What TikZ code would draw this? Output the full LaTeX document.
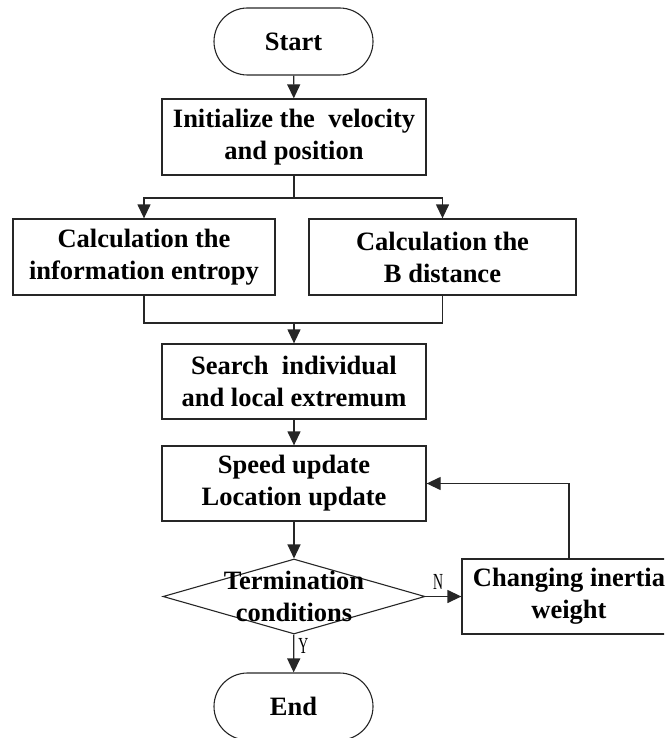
\documentclass[tikz,border=0pt]{standalone}
\usepackage{fontspec}
\setmainfont{Liberation Serif}
\newfontfamily\condfont[FakeStretch=0.6]{Liberation Serif}
\usetikzlibrary{shapes.geometric,shapes.misc,arrows.meta}

\tikzset{
  flowbox/.style={draw=black!85, line width=1.3pt, rectangle, align=center,
    inner sep=0pt, minimum height=75pt},
  terminal/.style={draw=black!85, line width=1.1pt, rounded rectangle, align=center,
    inner sep=0pt, minimum width=159pt, minimum height=67pt},
  decision/.style={draw=black!85, line width=1.1pt, diamond, inner sep=0pt,
    minimum width=262pt, minimum height=75pt},
  flowarrow/.style={draw=black!85, line width=1.3pt, -{Triangle[length=14pt,width=13pt]}},
  flowline/.style={draw=black!85, line width=1.3pt},
  yesno/.style={font=\condfont\fontsize{23}{26}\selectfont, inner sep=0pt}
}

\begin{document}
\begin{tikzpicture}[x=1pt, y=-1pt, font=\bfseries\fontsize{26.5}{32}\selectfont]
\clip (0,0) rectangle (664,738);
\node[terminal] (start) at (293.5,41.5) {Start};
\node[flowbox, minimum width=264pt, minimum height=76pt] (init) at (294,137) {Initialize the~ velocity\\and position};
\node[flowbox, minimum width=262pt, minimum height=76pt] (entropy) at (144,257) {Calculation the\\information entropy};
\node[flowbox, minimum width=267pt, minimum height=76pt] (bdist) at (442.5,257) {Calculation the\\B distance};
\node[flowbox, minimum width=264pt] (search) at (294,381.5) {Search~ individual\\and local extremum};
\node[flowbox, minimum width=264pt] (speed) at (294,483.5) {Speed update\\Location update};
\node[decision, label={[align=center, inner sep=0pt]center:Termination\\conditions}] (cond) at (294,596.5) {};
\node[flowbox, minimum width=214pt] (inertia) at (569,596.5) {Changing inertia\\weight};
\node[terminal] (stop) at (293.5,706.5) {End};
\coordinate (split) at (294,198);
\coordinate (merge) at (294,323);

\draw[flowarrow] (start) -- (init);
\draw[flowline] (init) -- (split);
\draw[flowarrow] (split) -| (entropy);
\draw[flowarrow] (split) -| (bdist);
\draw[flowline] (entropy) |- (merge);
\draw[flowline] (bdist) |- (merge);
\draw[flowarrow] (merge) -- (search);
\draw[flowarrow] (search) -- (speed);
\draw[flowarrow] (speed) -- (cond);
\draw[flowarrow] (cond) -- node[yesno, above, pos=0.35, yshift=6pt] {N} (inertia);
\draw[flowarrow] (cond) -- node[yesno, right, pos=0.3, xshift=4pt] {Y} (stop);
\draw[flowarrow] (inertia) |- (speed);
\end{tikzpicture}
\end{document}
